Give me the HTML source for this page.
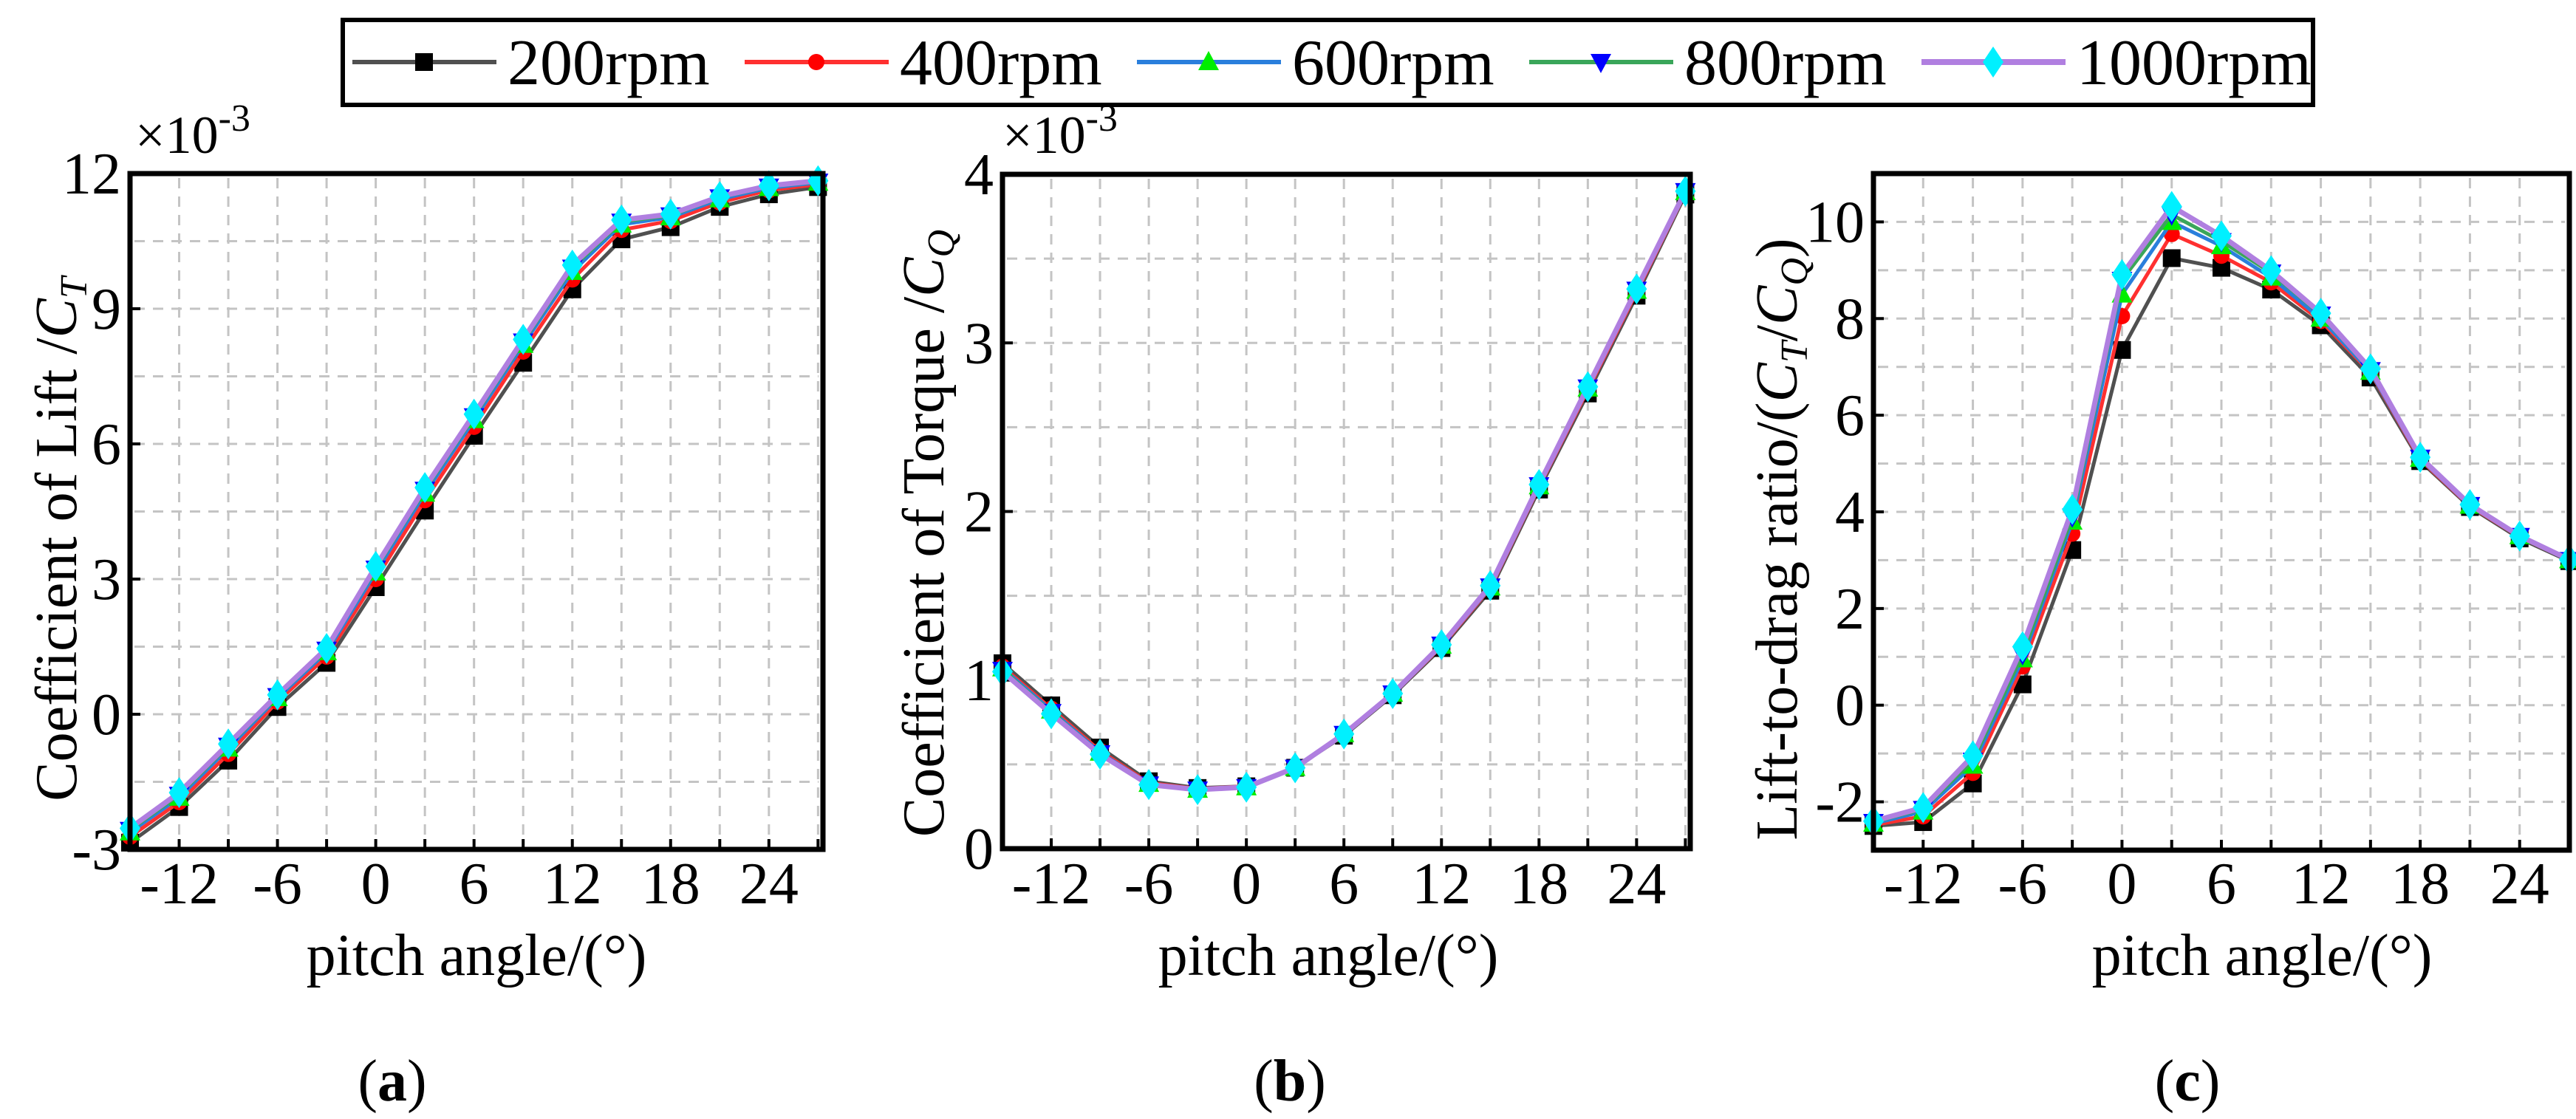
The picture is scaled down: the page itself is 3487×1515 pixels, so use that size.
<!DOCTYPE html>
<html><head><meta charset="utf-8"><style>
html,body{margin:0;padding:0;background:#fff;}
svg{display:block;}
svg text{font-family:"Liberation Serif","Times New Roman",serif;}
</style></head><body>
<svg id="fig" width="3487" height="1515" viewBox="0 0 3487 1515" xmlns="http://www.w3.org/2000/svg" font-family="Liberation Serif, serif"></svg>
<script>
// ---- data ----
const pitchAngles = [-15,-12,-9,-6,-3,0,3,6,9,12,15,18,21,24,27];
const seriesNames = ["200rpm","400rpm","600rpm","800rpm","1000rpm"];
// Coefficient of lift (x1e-3)
const ct200  = [-2.85,-2.06,-1.03,0.16,1.14,2.82,4.52,6.18,7.80,9.43,10.54,10.81,11.26,11.54,11.70];
const ct400  = [-2.72,-1.95,-0.88,0.28,1.28,3.00,4.75,6.38,8.05,9.65,10.75,10.95,11.36,11.63,11.76];
const ct600  = [-2.62,-1.85,-0.76,0.36,1.38,3.15,4.90,6.53,8.20,9.82,10.87,11.03,11.43,11.68,11.80];
const ct800  = [-2.57,-1.79,-0.70,0.40,1.43,3.23,4.98,6.61,8.27,9.91,10.93,11.07,11.47,11.71,11.82];
const ct1000 = [-2.53,-1.74,-0.66,0.43,1.46,3.28,5.03,6.66,8.32,9.97,10.97,11.10,11.49,11.73,11.84];
// Coefficient of torque (x1e-3)
const cq200  = [1.10,0.85,0.60,0.40,0.36,0.37,0.48,0.67,0.91,1.19,1.53,2.13,2.70,3.28,3.88];
const cq400  = [1.08,0.83,0.58,0.39,0.355,0.37,0.48,0.675,0.915,1.20,1.545,2.145,2.72,3.30,3.89];
const cq600  = [1.07,0.82,0.57,0.385,0.35,0.365,0.48,0.68,0.92,1.205,1.55,2.15,2.73,3.31,3.895];
const cq800  = [1.06,0.81,0.565,0.38,0.35,0.365,0.48,0.68,0.92,1.21,1.555,2.155,2.735,3.315,3.90];
const cq1000 = [1.05,0.80,0.56,0.38,0.35,0.365,0.48,0.68,0.92,1.21,1.56,2.16,2.74,3.32,3.90];
// Lift-to-drag ratio
const ld200  = [-2.50,-2.42,-1.62,0.43,3.21,7.35,9.25,9.05,8.60,7.86,6.78,5.05,4.10,3.45,2.98];
const ld400  = [-2.48,-2.30,-1.40,0.80,3.55,8.05,9.75,9.30,8.75,7.95,6.88,5.08,4.12,3.48,3.00];
const ld600  = [-2.45,-2.20,-1.25,0.95,3.80,8.50,10.00,9.50,8.85,8.00,6.90,5.10,4.13,3.50,3.00];
const ld800  = [-2.42,-2.15,-1.15,1.05,3.90,8.80,10.15,9.60,8.95,8.08,6.93,5.12,4.14,3.50,3.00];
const ld1000 = [-2.40,-2.12,-1.05,1.21,4.05,8.91,10.32,9.71,8.99,8.11,6.96,5.13,4.15,3.50,3.01];
const xTicks = [-12,-6,0,6,12,18,24];
const ctTicks = [-3,0,3,6,9,12];
const cqTicks = [0,1,2,3,4];
const ldTicks = [-2,0,2,4,6,8,10];

const NS="http://www.w3.org/2000/svg";
const svg=document.getElementById('fig');
const FF="Liberation Serif, Times New Roman, serif";
function mk(tag,attrs,parent){const e=document.createElementNS(NS,tag);for(const k in attrs)e.setAttribute(k,attrs[k]);if(tag==='text')e.setAttribute('font-family',FF);(parent||svg).appendChild(e);return e;}

const styles=[
 {line:"#505050",lw:5,marker:"square",mc:"#000000"},
 {line:"#ff3030",lw:5,marker:"circle",mc:"#ff0000"},
 {line:"#2a7fdc",lw:5,marker:"tri",mc:"#00ee00"},
 {line:"#3aa65a",lw:5,marker:"tridown",mc:"#0000ff"},
 {line:"#b07fe0",lw:7,marker:"diamond",mc:"#00f0ff"}
];
function marker(g,type,x,y,c,s){
  s=s||1;
  if(type==="square")return mk('rect',{x:x-12*s,y:y-12*s,width:24*s,height:24*s,fill:c},g);
  if(type==="circle")return mk('circle',{cx:x,cy:y,r:11*s,fill:c},g);
  if(type==="tri")return mk('polygon',{points:`${x},${y-15*s} ${x+14*s},${y+11*s} ${x-14*s},${y+11*s}`,fill:c},g);
  if(type==="tridown")return mk('polygon',{points:`${x},${y+15*s} ${x+14*s},${y-11*s} ${x-14*s},${y-11*s}`,fill:c},g);
  return mk('polygon',{points:`${x},${y-21*s} ${x+14*s},${y} ${x},${y+21*s} ${x-14*s},${y}`,fill:c},g);
}

function panel(cfg){
  const {name,L,R,T,B,xmin,xmax,ymin,ymax,yTicks,hGrid,series,ytitle,ytx,yty,xtx,lbl,lblx,mult,multx}=cfg;
  const g=mk('g',{});
  
  
  const X=v=>L+(v-xmin)/(xmax-xmin)*(R-L);
  const Y=v=>B-(v-ymin)/(ymax-ymin)*(B-T);
  const grid=mk('g',{stroke:"#c4c4c4","stroke-width":3,"stroke-dasharray":"14 11"},g);
  
  
  for(let v=-12;v<xmax;v+=3){mk('line',{x1:X(v),x2:X(v),y1:T+6,y2:B-6},grid);}
  for(let v=ymin+hGrid;v<ymax-1e-9;v+=hGrid){mk('line',{x1:L+6,x2:R-6,y1:Y(v),y2:Y(v)},grid);}
  for(let v=-12;v<xmax;v+=3){mk('line',{x1:X(v),x2:X(v),y1:B,y2:B-14,stroke:"#000","stroke-width":4},g);}
  for(const v of yTicks){mk('line',{x1:L,x2:L+14,y1:Y(v),y2:Y(v),stroke:"#000","stroke-width":4},g);}
  series.forEach((arr,i)=>{
    const st=styles[i];
    const sg=mk('g',{},g);
    
    
    const pts=arr.map((v,j)=>X(pitchAngles[j])+","+Y(v)).join(" ");
    mk('polyline',{points:pts,fill:"none",stroke:st.line,"stroke-width":st.lw,"stroke-linejoin":"round"},sg);
    arr.forEach((v,j)=>{const m=marker(sg,st.marker,X(pitchAngles[j]),Y(v),st.mc);
      
      });
  });
  const fr=mk('rect',{x:L,y:T,width:R-L,height:B-T,fill:"none",stroke:"#000","stroke-width":7},g);
  
  
  for(const v of xTicks){const t=mk('text',{x:X(v),y:1223,"font-size":80,"text-anchor":"middle"},g);t.textContent=v;
    
    }
  for(const v of yTicks){const t=mk('text',{x:L-12,y:Y(v)+27,"font-size":80,"text-anchor":"end"},g);t.textContent=v;
    
    }
  const xt=mk('text',{x:xtx,y:1320,"font-size":80,"text-anchor":"middle"},g);xt.textContent="pitch angle/(°)";
  
  
  const yt=mk('text',{x:0,y:0,"font-size":80,"text-anchor":"middle",transform:`translate(${ytx},${yty}) rotate(-90)`},g);
  
  
  ytitle.forEach(p=>{const ts=mk('tspan',p.a||{},yt);ts.textContent=p.t;});
  if(mult){const m=mk('text',{x:multx,y:207,"font-size":72},g);
    
    
    const a=mk('tspan',{},m);a.textContent="×10";const b=mk('tspan',{dy:-30,"font-size":52},m);b.textContent="-3";}
  const lb=mk('text',{x:lblx,y:1490,"font-size":80,"text-anchor":"middle"},g);
  
  
  const l1=mk('tspan',{},lb);l1.textContent="(";const l2=mk('tspan',{"font-weight":"bold"},lb);l2.textContent=lbl;const l3=mk('tspan',{},lb);l3.textContent=")";
}

panel({name:"panel-a-lift",L:176,R:1114,T:235,B:1150,xmin:-15,xmax:27.3,ymin:-3,ymax:12,yTicks:ctTicks,hGrid:1.5,
  series:[ct200,ct400,ct600,ct800,ct1000],
  ytitle:[{t:"Coefficient of Lift /"},{t:"C",a:{"font-style":"italic"}},{t:"T",a:{"font-style":"italic","font-size":52,dy:14}}],
  ytx:103,yty:730,xtx:645,lbl:"a",lblx:531,mult:true,multx:183});
panel({name:"panel-b-torque",L:1357,R:2288,T:236,B:1149,xmin:-15,xmax:27.3,ymin:0,ymax:4,yTicks:cqTicks,hGrid:0.5,
  series:[cq200,cq400,cq600,cq800,cq1000],
  ytitle:[{t:"Coefficient of Torque /"},{t:"C",a:{"font-style":"italic"}},{t:"Q",a:{"font-style":"italic","font-size":52,dy:14}}],
  ytx:1277,yty:722,xtx:1798,lbl:"b",lblx:1746,mult:true,multx:1357});
panel({name:"panel-c-lift-drag",L:2536,R:3478,T:235,B:1151,xmin:-15,xmax:27,ymin:-3,ymax:11,yTicks:ldTicks,hGrid:1,
  series:[ld200,ld400,ld600,ld800,ld1000],
  ytitle:[{t:"Lift-to-drag ratio/("},{t:"C",a:{"font-style":"italic"}},{t:"T",a:{"font-style":"italic","font-size":52,dy:14}},{t:"/",a:{dy:-14}},{t:"C",a:{"font-style":"italic"}},{t:"Q",a:{"font-style":"italic","font-size":52,dy:14}},{t:")",a:{dy:-14}}],
  ytx:2432,yty:730,xtx:3062,lbl:"c",lblx:2961,mult:false});

// legend
const lg=mk('g',{});


mk('rect',{x:464,y:27,width:2667,height:115,fill:"#fff",stroke:"#000","stroke-width":6},lg);
seriesNames.forEach((n,i)=>{
  const eg=mk('g',{},lg);
  
  
  const x0=477+i*531, cy=84;
  mk('line',{x1:x0,x2:x0+195,y1:cy,y2:cy,stroke:styles[i].line,"stroke-width":styles[i].lw+1},eg);
  marker(eg,styles[i].marker,x0+97,cy,styles[i].mc);
  const t=mk('text',{x:x0+210,y:cy+30,"font-size":88},eg);t.textContent=n;
});
</script>
</body></html>
